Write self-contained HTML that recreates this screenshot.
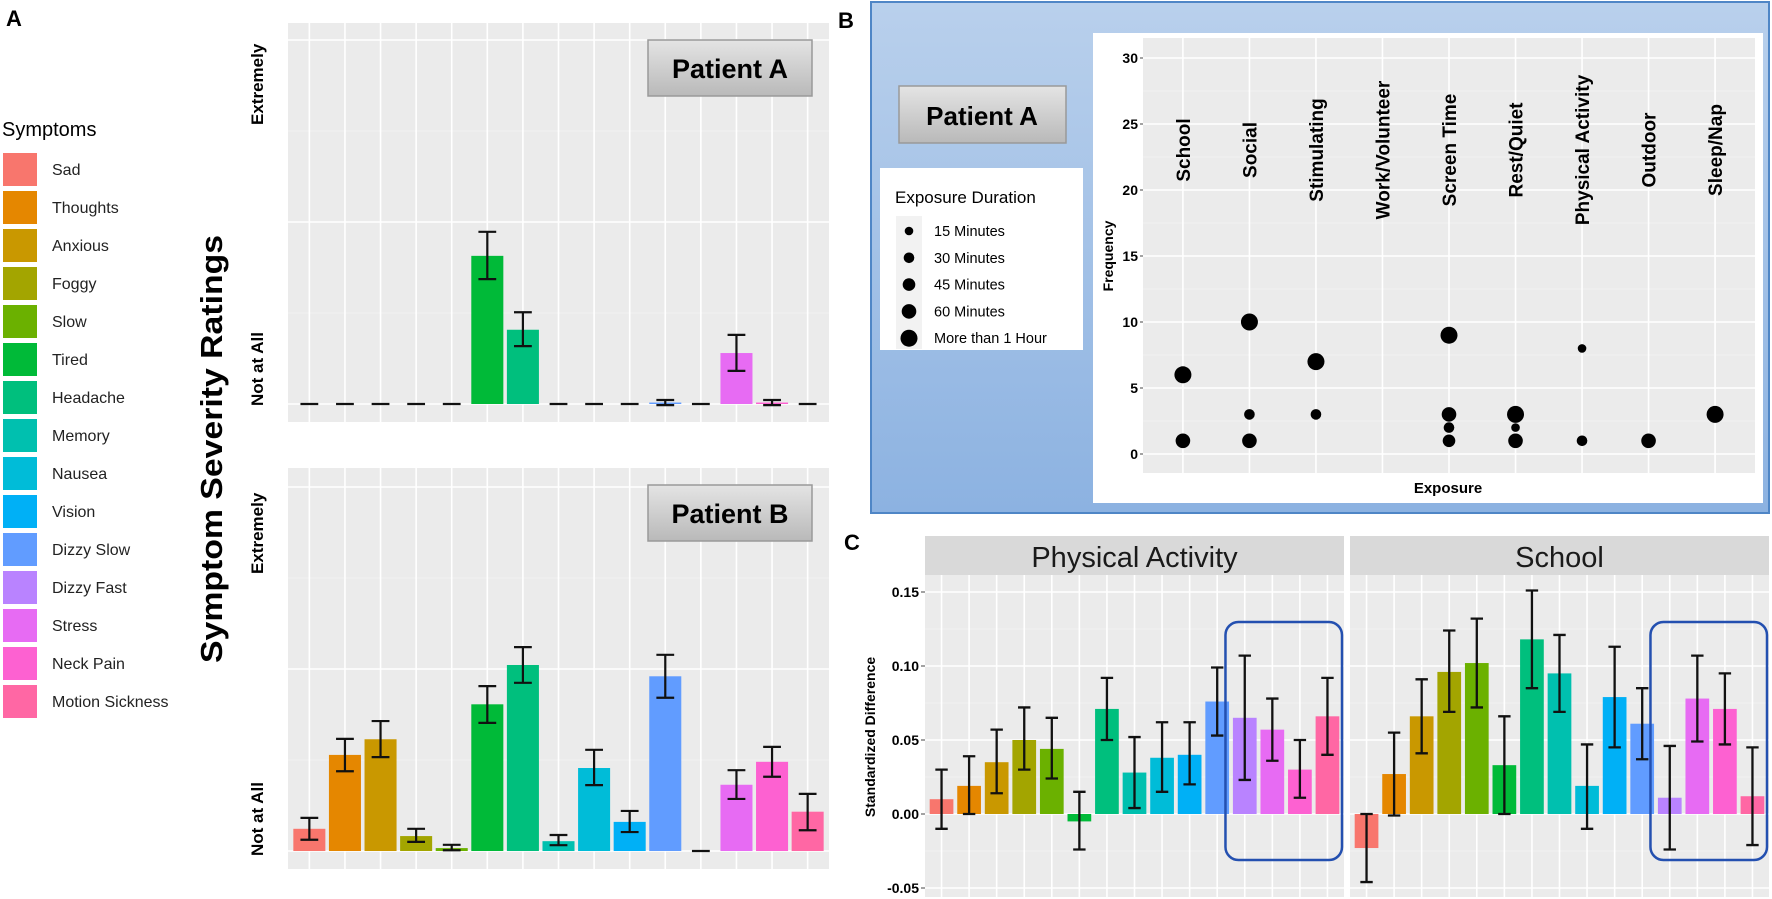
<!DOCTYPE html>
<html><head><meta charset="utf-8"><style>
html,body{margin:0;padding:0;background:#fff;}
svg{display:block;font-family:"Liberation Sans",sans-serif;}
</style></head><body>
<svg id="fig" width="1772" height="899" viewBox="0 0 1772 899" xmlns="http://www.w3.org/2000/svg">
<defs>
<linearGradient id="blueGrad" x1="0" y1="0" x2="0" y2="1"><stop offset="0" stop-color="#b9d0ec"/><stop offset="1" stop-color="#8cb2e1"/></linearGradient>
<linearGradient id="grayGrad" x1="0" y1="0" x2="0" y2="1"><stop offset="0" stop-color="#e4e4e4"/><stop offset="1" stop-color="#b9b9b9"/></linearGradient>
</defs>
<g id="root"></g>
</svg>
<script>
// ---- data ----
const symptoms = ["Sad","Thoughts","Anxious","Foggy","Slow","Tired","Headache","Memory","Nausea","Vision","Dizzy Slow","Dizzy Fast","Stress","Neck Pain","Motion Sickness"];
const colors = ["#F8766D","#E58700","#C99800","#A3A500","#6BB100","#00BA38","#00BF7D","#00C0AF","#00BCD8","#00B0F6","#619CFF","#B983FF","#E76BF3","#FD61D1","#FF67A4"];
const patientAVals = [0,0,0,0,0,0.407,0.204,0,0,0,0.004,0,0.14,0.004,0];
const patientALo   = [0,0,0,0,0,0.343,0.159,0,0,0,-0.003,0,0.091,-0.003,0];
const patientAHi   = [0,0,0,0,0,0.473,0.252,0,0,0,0.011,0,0.19,0.011,0];
const patientBVals = [0.061,0.264,0.307,0.041,0.008,0.403,0.511,0.027,0.228,0.08,0.48,0,0.182,0.245,0.108];
const patientBLo   = [0.031,0.219,0.258,0.025,0.002,0.352,0.462,0.016,0.181,0.052,0.421,0,0.143,0.204,0.057];
const patientBHi   = [0.091,0.308,0.357,0.061,0.017,0.453,0.56,0.044,0.278,0.11,0.539,0,0.222,0.286,0.157];
const exposures = ["School","Social","Stimulating","Work/Volunteer","Screen Time","Rest/Quiet","Physical Activity","Outdoor","Sleep/Nap"];
const durationLabels = ["15 Minutes","30 Minutes","45 Minutes","60 Minutes","More than 1 Hour"];
const pointExposure = [0,0,1,1,1,2,2,4,4,4,4,5,5,5,6,6,7,8];
const pointFreq     = [6,1,10,3,1,7,3,9,3,2,1,3,2,1,8,1,1,3];
const pointDuration = [4,3,4,1,3,4,1,4,3,1,2,4,0,3,0,1,3,4];
const freqTicks = [0,5,10,15,20,25,30];
const facets = ["Physical Activity","School"];
const paVals = [0.01,0.019,0.035,0.05,0.044,-0.005,0.071,0.028,0.038,0.04,0.076,0.065,0.057,0.03,0.066];
const paLo   = [-0.01,0,0.014,0.03,0.024,-0.024,0.05,0.004,0.015,0.02,0.053,0.023,0.036,0.011,0.04];
const paHi   = [0.03,0.039,0.057,0.072,0.065,0.015,0.092,0.052,0.062,0.062,0.099,0.107,0.078,0.05,0.092];
const scVals = [-0.023,0.027,0.066,0.096,0.102,0.033,0.118,0.095,0.019,0.079,0.061,0.011,0.078,0.071,0.012];
const scLo   = [-0.046,-0.001,0.041,0.069,0.072,0,0.085,0.069,-0.01,0.045,0.037,-0.024,0.049,0.047,-0.021];
const scHi   = [0,0.055,0.091,0.124,0.132,0.066,0.151,0.121,0.047,0.113,0.085,0.046,0.107,0.095,0.045];
const diffTicks = [-0.05,0,0.05,0.1,0.15];
const diffTickLabels = ["-0.05","0.00","0.05","0.10","0.15"];

const NS="http://www.w3.org/2000/svg";
const root=document.getElementById('root');
function el(tag,attrs,parent,text){const e=document.createElementNS(NS,tag);for(const k in attrs)e.setAttribute(k,attrs[k]);if(text!==undefined)e.textContent=text;(parent||root).appendChild(e);return e;}

// ---- Panel labels ----
let t;
t=el('text',{x:6,y:26,'font-size':22,'font-weight':'bold'},root,'A');


t=el('text',{x:838,y:28,'font-size':22,'font-weight':'bold'},root,'B');


t=el('text',{x:844,y:550,'font-size':22,'font-weight':'bold'},root,'C');



// ---- Legend (Symptoms) ----
const leg=el('g',{});


el('text',{x:2,y:136,'font-size':20},leg,'Symptoms');
symptoms.forEach((s,i)=>{
  const y=153+i*38;
  const r=el('rect',{x:3,y:y,width:34,height:33,fill:colors[i]},leg);
  
  
  const tx=el('text',{x:52,y:y+22,'font-size':16,fill:'#222'},leg,s);
  
  
});
t=el('text',{x:0,y:0,'font-size':31,'font-weight':'bold',transform:'translate(222,449) rotate(-90)','text-anchor':'middle',textLength:428,lengthAdjust:'spacingAndGlyphs'},root,'Symptom Severity Ratings');



// ---- Panel A bar charts ----
function severityChart(top,bottom,zeroY,oneY,vals,lo,hi,label,boxY,extSpan,notSpan,name){
  const g=el('g',{});
  
  
  const L=288,R=829;
  el('rect',{x:L,y:top,width:R-L,height:bottom-top,fill:'#ebebeb'},g);
  const yS=v=>zeroY+(oneY-zeroY)*v;
  const band=(R-L)/15.2;
  const xS=i=>L+band*(0.6+i);
  [0.25,0.75].forEach(v=>el('line',{x1:L,x2:R,y1:yS(v),y2:yS(v),stroke:'#f4f4f4','stroke-width':0.8},g));
  [0,0.5,1].forEach(v=>el('line',{x1:L,x2:R,y1:yS(v),y2:yS(v),stroke:'#fff','stroke-width':1.6},g));
  symptoms.forEach((s,i)=>el('line',{x1:xS(i),x2:xS(i),y1:top,y2:bottom,stroke:'#fff','stroke-width':1.6},g));
  vals.forEach((v,i)=>{
    const bw=band*0.9;
    const y0=yS(0),y1=yS(v);
    const b=el('rect',{x:xS(i)-bw/2,y:Math.min(y0,y1),width:bw,height:Math.abs(y1-y0),fill:colors[i]},g);
    
    
    const cw=band*0.5, x=xS(i);
    const e=el('path',{d:`M${x-cw/2},${yS(hi[i])}H${x+cw/2}M${x},${yS(hi[i])}V${yS(lo[i])}M${x-cw/2},${yS(lo[i])}H${x+cw/2}`,stroke:'#111','stroke-width':2.2,fill:'none'},g);
    
    
  });
  const lb=el('g',{},g);
  
  
  el('rect',{x:648,y:boxY,width:164,height:56,fill:'url(#grayGrad)',stroke:'#999','stroke-width':1.5},lb);
  el('text',{x:730,y:boxY+38,'font-size':27,'font-weight':'bold','text-anchor':'middle'},lb,label);
  const e1=el('text',{x:0,y:0,'font-size':17,'font-weight':'bold',transform:`translate(263,${extSpan}) rotate(-90)`},g,'Extremely');
  
  
  const e2=el('text',{x:0,y:0,'font-size':17,'font-weight':'bold',transform:`translate(263,${notSpan}) rotate(-90)`},g,'Not at All');
  
  
}
severityChart(23,422,404,40,patientAVals,patientALo,patientAHi,'Patient A',40,125,406,'patient-a-chart');
severityChart(468,869,851,487,patientBVals,patientBLo,patientBHi,'Patient B',485,574,856,'patient-b-chart');

// ---- Panel B ----
const pb=el('g',{});


el('rect',{x:871,y:2,width:898,height:511,fill:'url(#blueGrad)',stroke:'#4f86c6','stroke-width':2},pb);
const pbl=el('g',{},pb);


el('rect',{x:899,y:86,width:167,height:57,fill:'url(#grayGrad)',stroke:'#999','stroke-width':1.5},pbl);
el('text',{x:982,y:125,'font-size':26,'font-weight':'bold','text-anchor':'middle'},pbl,'Patient A');
el('rect',{x:1093,y:33,width:670,height:470,fill:'#fff'},pb);
const PL=1143,PR=1755,PT=38,PB=473;
el('rect',{x:PL,y:PT,width:PR-PL,height:PB-PT,fill:'#ebebeb'},pb);
const fY=v=>454-(454-58)*v/30;
const exBand=(PR-PL)/9.2;
const exX=i=>PL+exBand*(0.6+i);
[2.5,7.5,12.5,17.5,22.5,27.5].forEach(v=>el('line',{x1:PL,x2:PR,y1:fY(v),y2:fY(v),stroke:'#f4f4f4','stroke-width':0.8},pb));
freqTicks.forEach(v=>{
  el('line',{x1:PL,x2:PR,y1:fY(v),y2:fY(v),stroke:'#fff','stroke-width':1.6},pb);
  el('line',{x1:PL-3,x2:PL,y1:fY(v),y2:fY(v),stroke:'#444','stroke-width':1},pb);
  const tl=el('text',{x:PL-5,y:fY(v)+5,'font-size':14,'font-weight':'bold','text-anchor':'end'},pb,String(v));
  
  
});
exposures.forEach((e,i)=>{
  el('line',{x1:exX(i),x2:exX(i),y1:PT,y2:PB,stroke:'#fff','stroke-width':1.6},pb);
  const tl=el('text',{x:0,y:0,'font-size':19,'font-weight':'bold','text-anchor':'middle',transform:`translate(${exX(i)+7},150) rotate(-90)`},pb,e);
  
  
});
const radii=[4.3,5.3,6.3,7.3,8.5];
pointFreq.forEach((f,i)=>{
  const c=el('circle',{cx:exX(pointExposure[i]),cy:fY(f),r:radii[pointDuration[i]],fill:'#000'},pb);
  
  
});
t=el('text',{x:0,y:0,'font-size':14,'font-weight':'bold','text-anchor':'middle',transform:'translate(1113,256) rotate(-90)'},pb,'Frequency');


t=el('text',{x:1448,y:493,'font-size':15,'font-weight':'bold','text-anchor':'middle'},pb,'Exposure');


const dl=el('g',{},pb);


el('rect',{x:880,y:168,width:203,height:182,fill:'#fff'},dl);
el('text',{x:895,y:203,'font-size':17},dl,'Exposure Duration');
el('rect',{x:896,y:216,width:26,height:133,fill:'#f2f2f2'},dl);
durationLabels.forEach((d,i)=>{
  const y=231+i*26.8;
  el('circle',{cx:909,cy:y,r:radii[i],fill:'#000'},dl);
  el('text',{x:934,y:y+5,'font-size':14.5},dl,d);
});

// ---- Panel C ----
const pc=el('g',{});


const CT=575,CB=897;
const dY=v=>814-(v/0.05)*74;
const facetX=[[925,1344],[1350,1769]];
const facetVals=[paVals,scVals],facetLo=[paLo,scLo],facetHi=[paHi,scHi];
facets.forEach((f,k)=>{
  const [L,R]=facetX[k];
  const g=el('g',{},pc);
  
  
  el('rect',{x:L,y:536,width:R-L,height:39,fill:'#d9d9d9'},g);
  const st=el('text',{x:(L+R)/2,y:567,'font-size':29,'text-anchor':'middle',fill:'#1a1a1a'},g,f);
  
  
  el('rect',{x:L,y:CT,width:R-L,height:CB-CT,fill:'#ebebeb'},g);
  [-0.075,-0.025,0.025,0.075,0.125].forEach(v=>{const y=dY(v);if(y>CT)el('line',{x1:L,x2:R,y1:y,y2:y,stroke:'#f4f4f4','stroke-width':0.8},g);});
  diffTicks.forEach(v=>el('line',{x1:L,x2:R,y1:dY(v),y2:dY(v),stroke:'#fff','stroke-width':1.6},g));
  const band=(R-L)/15.2;
  const xS=i=>L+band*(0.6+i);
  symptoms.forEach((s,i)=>el('line',{x1:xS(i),x2:xS(i),y1:CT,y2:CB,stroke:'#fff','stroke-width':1.6},g));
  facetVals[k].forEach((v,i)=>{
    const bw=band*0.86;
    const y0=dY(0),y1=dY(v);
    const b=el('rect',{x:xS(i)-bw/2,y:Math.min(y0,y1),width:bw,height:Math.abs(y1-y0),fill:colors[i]},g);
    
    
    const cw=band*0.45,x=xS(i),hy=dY(facetHi[k][i]),ly=dY(facetLo[k][i]);
    const e=el('path',{d:`M${x-cw/2},${hy}H${x+cw/2}M${x},${hy}V${ly}M${x-cw/2},${ly}H${x+cw/2}`,stroke:'#111','stroke-width':2.3,fill:'none'},g);
    
    
  });
  const hb=el('rect',{x:xS(11)-band*0.7,y:622,width:R-(xS(11)-band*0.7)-2,height:238,rx:13,fill:'none',stroke:'#2450b0','stroke-width':2.5},g);
  
  
});
diffTicks.forEach((v,i)=>{
  el('line',{x1:921,x2:925,y1:dY(v),y2:dY(v),stroke:'#444','stroke-width':1},pc);
  const tl=el('text',{x:919,y:dY(v)+5,'font-size':14,'font-weight':'bold','text-anchor':'end'},pc,diffTickLabels[i]);
  
  
});
t=el('text',{x:0,y:0,'font-size':14,'font-weight':'bold','text-anchor':'middle',transform:'translate(875,737) rotate(-90)'},pc,'Standardized Difference');


</script>
</body></html>
